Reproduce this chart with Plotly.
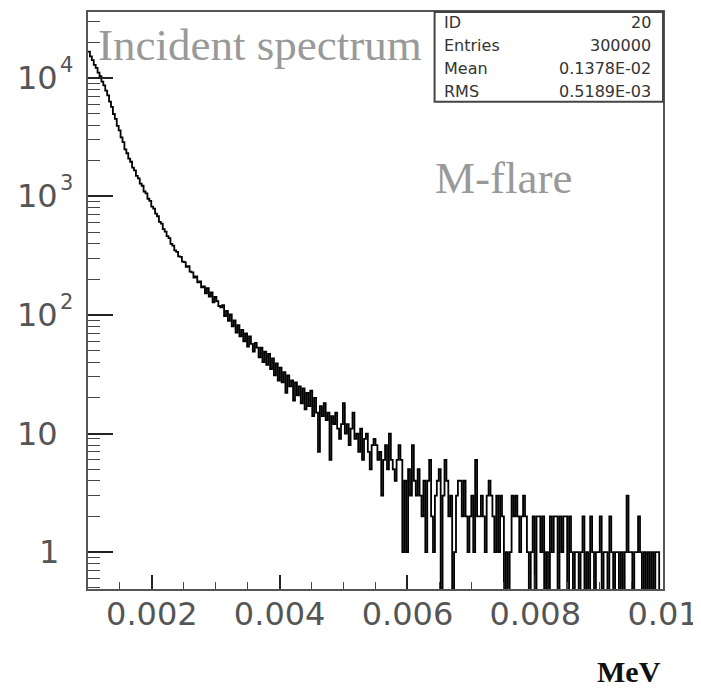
import numpy as np
import plotly.graph_objects as go

# ---------------- data ----------------
BIN_LOW = 0.001
BIN_HIGH = 0.01
COUNTS = [
    16650, 15180, 14090, 12850, 12120, 11060, 10350, 9280, 8640, 7790,
    7120, 6290, 5680, 4950, 4500, 3940, 3610, 3150, 2870, 2490,
    2310, 2080, 1960, 1750, 1660, 1490, 1420, 1280, 1230, 1100,
    1060, 955, 915, 820, 790, 715, 680, 610, 590, 530,
    505, 462, 445, 398, 385, 350, 341, 312, 309, 282,
    279, 255, 258, 232, 229, 207, 211, 188, 192, 171,
    174, 152, 168, 143, 155, 128, 142, 131, 119, 116,
    121, 98, 108, 89, 101, 80, 90, 71, 82, 66,
    75, 60, 70, 54, 66, 57, 49, 58, 53, 44,
    53, 40, 49, 38, 47, 35, 43, 31, 39, 28,
    36, 27, 33, 22, 31, 25, 28, 19, 27, 21,
    25, 18, 24, 16, 22, 17, 23, 14, 20, 15,
    7, 17, 14, 18, 13, 15, 6, 14, 12, 15,
    11, 9, 12, 18, 10, 12, 8, 11, 15, 9,
    10, 7, 11, 6, 9, 10, 7, 5, 8, 9,
    8, 6, 7, 3, 6, 8, 5, 10, 6, 5,
    4, 6, 8, 6, 1, 4, 1, 5, 3, 8,
    4, 3, 5, 3, 2, 4, 1, 4, 6, 2,
    1, 3, 4, 5, 0, 3, 6, 4, 2, 3,
    0, 1, 3, 4, 4, 2, 4, 2, 1, 2,
    3, 1, 6, 2, 2, 3, 2, 1, 3, 4,
    3, 2, 1, 3, 1, 3, 2, 0, 1, 0,
    1, 3, 2, 3, 2, 1, 2, 3, 2, 1,
    0, 1, 2, 0, 2, 2, 1, 2, 0, 1,
    0, 2, 1, 2, 2, 0, 2, 1, 2, 2,
    0, 2, 1, 0, 1, 1, 0, 1, 2, 0,
    1, 0, 2, 1, 0, 1, 1, 2, 0, 1,
    1, 0, 2, 1, 0, 1, 1, 0, 1, 0,
    1, 3, 1, 1, 0, 1, 1, 2, 1, 0,
    1, 0, 1, 0, 1, 0, 1, 1, 0, 0,
]

X_TICK_VALUES = [0.002, 0.004, 0.006, 0.008, 0.01]
X_TICK_LABELS = ["0.002", "0.004", "0.006", "0.008", "0.01"]
Y_DECADES = [1, 10, 100, 1000, 10000]
Y_BASES = ["1", "10", "10", "10", "10"]
Y_EXPONENTS = ["", "", "2", "3", "4"]

STAT_NAMES = ["ID", "Entries", "Mean", "RMS"]
STAT_VALUES = ["20", "300000", "0.1378E-02", "0.5189E-03"]

TITLE_TEXT = "Incident spectrum"
LABEL_TEXT = "M-flare"
X_UNIT = "MeV"

# ---------------- layout geometry (window pixels) ----------------
WIN_W, WIN_H = 701, 692
PAGE_MARGIN = 8                     # default body margin of the html page
W, H = WIN_W - PAGE_MARGIN, WIN_H - PAGE_MARGIN
PLOT_L, PLOT_R, PLOT_T, PLOT_B = 88, 667, 10, 589   # plot frame in window pixels
ML = PLOT_L - PAGE_MARGIN
MT = PLOT_T - PAGE_MARGIN
MR = WIN_W - PLOT_R
MB = WIN_H - PLOT_B
PW = PLOT_R - PLOT_L
PH = PLOT_B - PLOT_T


def fx(px):
    return (px - PLOT_L) / PW


def fy(py):
    return (PLOT_B - py) / PH


Y_MIN_LOG, Y_MAX_LOG = -0.311, 4.555

edges = np.linspace(BIN_LOW, BIN_HIGH, len(COUNTS) + 1)
counts = np.array(COUNTS, dtype=float)
shown = np.where(counts > 0, counts, 1e-3)  # empty bins drop out of the log axis
yvals = np.append(shown, shown[-1])

fig = go.Figure()
fig.add_trace(go.Scatter(
    x=edges, y=yvals, mode="lines",
    line=dict(color="black", width=1.8, shape="hv"),
    hoverinfo="skip", showlegend=False,
))

minor_y = []
for k in range(-1, 5):
    for m in range(2, 10):
        v = m * 10 ** k
        if Y_MIN_LOG < np.log10(v) < Y_MAX_LOG:
            minor_y.append(v)

AX_COLOR = "#555"
LABEL_COLOR = "#555"
LABEL_FONT = "DejaVu Sans"

fig.update_layout(
    width=W, height=H,
    margin=dict(l=ML, r=MR, t=MT, b=MB, pad=0),
    paper_bgcolor="white", plot_bgcolor="white",
    showlegend=False,
    xaxis=dict(
        range=[BIN_LOW, BIN_HIGH], showgrid=False, zeroline=False,
        showline=True, linecolor=AX_COLOR, linewidth=2, mirror=True,
        ticks="inside", tickmode="array", tickvals=X_TICK_VALUES, ticktext=X_TICK_LABELS,
        ticklen=14, tickwidth=1.5, tickcolor="#222",
        tickfont=dict(family=LABEL_FONT, size=32, color=LABEL_COLOR),
        ticklabelstandoff=-4, ticklabeloverflow="allow",
        minor=dict(tickmode="linear", tick0=BIN_LOW, dtick=0.0005,
                   ticks="inside", ticklen=7, tickwidth=1.2, tickcolor="#444"),
    ),
    yaxis=dict(
        type="log", range=[Y_MIN_LOG, Y_MAX_LOG], showgrid=False, zeroline=False,
        showline=True, linecolor=AX_COLOR, linewidth=2, mirror=True,
        ticks="inside", tickmode="array", tickvals=Y_DECADES,
        ticklen=25, tickwidth=1.5, tickcolor="#222",
        showticklabels=False,
        minor=dict(tickmode="array", tickvals=minor_y, ticks="inside",
                   ticklen=12, tickwidth=1.2, tickcolor="#444"),
    ),
)

ann = []
# y-axis labels (PAW style: base plus raised exponent)
for v, base, ex in zip(Y_DECADES, Y_BASES, Y_EXPONENTS):
    left_px = 37 if len(base) == 1 else 14
    ann.append(dict(x=fx(left_px), xref="paper", y=np.log10(v), yref="y",
                    text=base, showarrow=False, xanchor="left", yanchor="middle",
                    font=dict(family=LABEL_FONT, size=32, color=LABEL_COLOR)))
    if ex:
        ann.append(dict(x=fx(58), xref="paper", y=np.log10(v), yref="y", yshift=13,
                        text=ex, showarrow=False, xanchor="left", yanchor="middle",
                        font=dict(family=LABEL_FONT, size=21, color=LABEL_COLOR)))

ann.append(dict(x=fx(96), xref="paper", y=fy(43), yref="paper", text=TITLE_TEXT,
                showarrow=False, xanchor="left", yanchor="middle",
                font=dict(family="Liberation Serif", size=45, color="#999")))
ann.append(dict(x=fx(435), xref="paper", y=fy(177), yref="paper", text=LABEL_TEXT,
                showarrow=False, xanchor="left", yanchor="middle",
                font=dict(family="Liberation Serif", size=45, color="#999")))
ann.append(dict(x=fx(667), xref="paper", y=fy(672), yref="paper", text="<b>%s</b>" % X_UNIT,
                showarrow=False, xanchor="right", yanchor="middle",
                font=dict(family="Liberation Serif", size=30, color="#111")))

# statistics box
BOX_LEFT, BOX_BOTTOM = 437, 100
row_top, row_step = 21, 23
for j, (nm, val) in enumerate(zip(STAT_NAMES, STAT_VALUES)):
    yc = fy(row_top + j * row_step)
    ann.append(dict(x=fx(444), xref="paper", y=yc, yref="paper", text=nm,
                    showarrow=False, xanchor="left", yanchor="middle",
                    font=dict(family="DejaVu Sans", size=16, color="#333")))
    ann.append(dict(x=fx(657), xref="paper", y=yc, yref="paper", text=val,
                    showarrow=False, xanchor="right", yanchor="middle",
                    font=dict(family="DejaVu Sans", size=16, color="#333")))

fig.update_layout(
    annotations=ann,
    shapes=[dict(type="rect", xref="paper", yref="paper",
                 x0=fx(BOX_LEFT), x1=1.0, y0=fy(BOX_BOTTOM), y1=1.0,
                 line=dict(color="#444", width=2), fillcolor="white", layer="above")],
)

fig.write_html("out.html")
